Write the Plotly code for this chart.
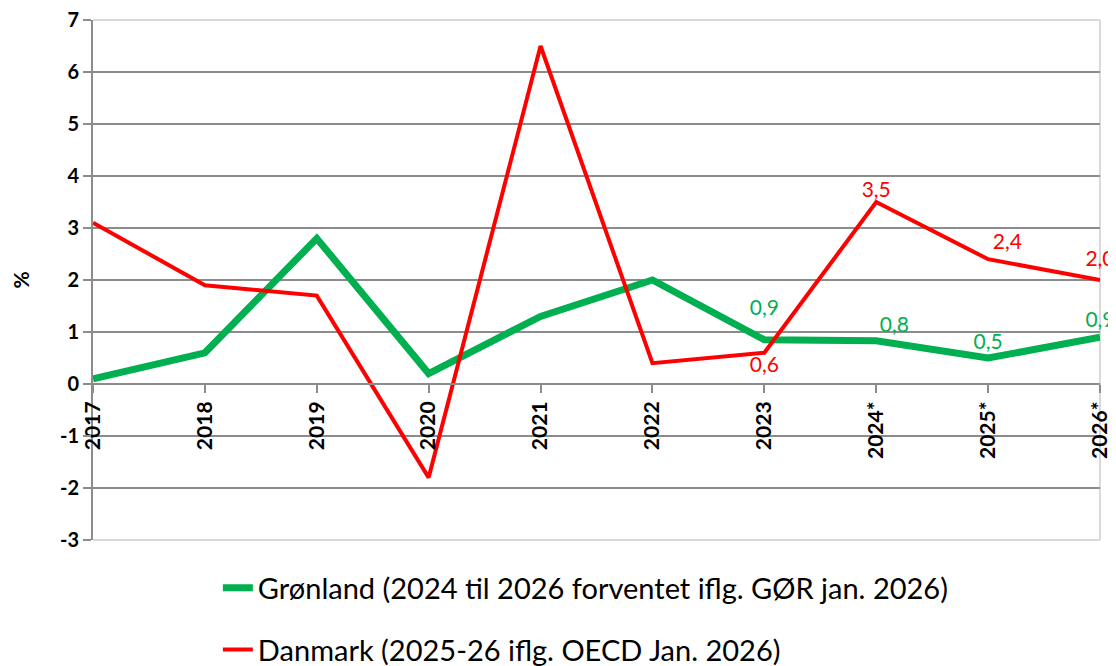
import plotly.graph_objects as go

years = ["2017", "2018", "2019", "2020", "2021", "2022", "2023", "2024*", "2025*", "2026*"]
groenland = [0.1, 0.6, 2.8, 0.2, 1.3, 2.0, 0.85, 0.83, 0.5, 0.9]
danmark = [3.1, 1.9, 1.7, -1.8, 6.5, 0.4, 0.6, 3.5, 2.4, 2.0]
groenland_labels = ["", "", "", "", "", "", "0,9", "0,8", "0,5", "0,9"]
danmark_labels = ["", "", "", "", "", "", "0,6", "3,5", "2,4", "2,0"]
y_tickvals = [-3, -2, -1, 0, 1, 2, 3, 4, 5, 6, 7]
y_ticktext = ["-3", "-2", "-1", "0", "1", "2", "3", "4", "5", "6", "7"]

name_g = "Grønland (2024 til 2026 forventet iflg. GØR jan. 2026)"
name_d = "Danmark (2025-26 iflg. OECD Jan. 2026)"

GREEN = "#00b050"
RED = "#ff0000"
FONT = "Lato"

# label placement styling (invisible markers push the labels away from the line)
g_pos = ["top center"] * 7 + ["top right", "top center", "top center"]
g_msize = [6] * 6 + [30, 4, 4, 6]
d_pos = ["top center"] * 6 + ["bottom center", "top center", "top right", "top center"]
d_msize = [6] * 6 + [4, 0, 6, 12]

fig = go.Figure()
fig.add_trace(go.Scatter(
    x=years, y=groenland, name=name_g, mode="lines+markers+text",
    line=dict(color=GREEN, width=7),
    marker=dict(size=g_msize, color="rgba(0,0,0,0)", line=dict(width=0)),
    text=groenland_labels, textposition=g_pos,
    textfont=dict(color=GREEN, size=21, family=FONT),
    cliponaxis=False, legendgroup="g",
))
fig.add_trace(go.Scatter(
    x=years, y=danmark, name=name_d, mode="lines+markers+text",
    line=dict(color=RED, width=4),
    marker=dict(size=d_msize, color="rgba(0,0,0,0)", line=dict(width=0)),
    text=danmark_labels, textposition=d_pos,
    textfont=dict(color=RED, size=21, family=FONT),
    cliponaxis=False, legendgroup="d",
))

fig.update_layout(
    width=1108, height=658,
    margin=dict(l=85, r=16, t=12, b=126, autoexpand=False),
    plot_bgcolor="white", paper_bgcolor="white",
    font=dict(family=FONT, color="black"),
    showlegend=True,
    legend=dict(
        x=0.124, y=-0.043, xanchor="left", yanchor="top",
        font=dict(size=29, family=FONT, color="black"),
        tracegroupgap=21, bgcolor="rgba(0,0,0,0)",
    ),
    xaxis=dict(
        type="category", range=[0, 9], automargin=False,
        anchor="free", position=0.3,
        showgrid=False, showline=True, linecolor="#8c8c8c", linewidth=2,
        ticks="outside", ticklen=8, tickcolor="#8c8c8c", tickwidth=2,
        tickangle=-90, ticklabeloverflow="allow",
        tickfont=dict(size=21, family=FONT, color="black", weight="bold"),
        zeroline=False,
    ),
    yaxis=dict(
        range=[-3, 7], automargin=False,
        tickmode="array", tickvals=y_tickvals, ticktext=y_ticktext,
        ticklabeloverflow="allow",
        showgrid=True, gridcolor="#8c8c8c", gridwidth=2,
        showline=True, linecolor="#8c8c8c", linewidth=2,
        ticks="outside", ticklen=8, tickcolor="#8c8c8c", tickwidth=2,
        tickfont=dict(size=20, family=FONT, color="black", weight="bold"),
        zeroline=False,
        title=dict(text="%", font=dict(size=21, family=FONT, color="black", weight="bold"), standoff=26),
    ),
    shapes=[
        dict(type="line", xref="paper", yref="paper", x0=0, x1=1, y0=1, y1=1,
             line=dict(color="#d9d9d9", width=2), layer="below"),
        dict(type="line", xref="paper", yref="paper", x0=0, x1=1, y0=0, y1=0,
             line=dict(color="#d9d9d9", width=2), layer="below"),
        dict(type="line", xref="paper", yref="paper", x0=1, x1=1, y0=0, y1=1,
             line=dict(color="#d9d9d9", width=2), layer="below"),
    ],
)

fig.write_html("out.html")
